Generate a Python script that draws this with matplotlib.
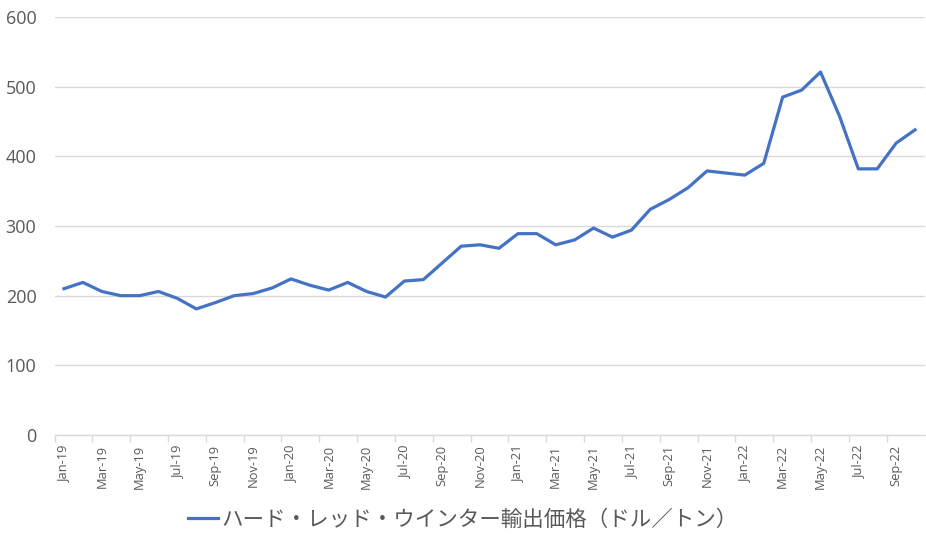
import numpy as np
import pandas as pd
import matplotlib
matplotlib.use("Agg")
import matplotlib.pyplot as plt
from matplotlib.ticker import FixedLocator

plt.rcParams["font.family"] = ["Noto Sans CJK JP", "DejaVu Sans"]

# monthly categories Jan-19 .. Oct-22
months = list(pd.date_range("2019-01-01", "2022-10-01", freq="MS").strftime("%b-%y"))

# export price (USD / ton)
price = [
    210, 219, 206, 200, 200, 206, 196, 181, 190, 200, 203, 211,
    224, 215, 208, 219, 206, 198, 221, 223, 247, 271, 273, 268,
    289, 289, 273, 280, 297, 284, 294, 324, 338, 355, 379, 376,
    373, 390, 485, 495, 521, 458, 382, 382, 419, 438,
]
series_label = "ハード・レッド・ウインター輸出価格（ドル／トン）"
y_ticks = [0, 100, 200, 300, 400, 500, 600]

text_col = "#595959"
grid_col = "#d9d9d9"
num_font = ["Open Sans", "DejaVu Sans"]

fig = plt.figure(figsize=(9.26, 5.34), dpi=100)
ax = fig.add_axes([0.0589, 0.1854, 0.9395, 0.7828])

x = np.arange(len(months))
ax.plot(x, price, color="#4472C4", linewidth=2.3, label=series_label,
        solid_joinstyle="round")

ax.set_xlim(-0.5, len(months) - 0.5)
ax.set_ylim(0, 600)
ax.set_yticks(y_ticks)
ax.yaxis.grid(True, color=grid_col, linewidth=1)
ax.set_axisbelow(True)

# labels on every second month, tick marks between categories
ax.xaxis.set_major_locator(FixedLocator(x[::2]))
ax.set_xticklabels(months[::2], rotation=90, fontsize=9.3, color=text_col,
                   family=num_font)
ax.xaxis.set_minor_locator(FixedLocator(x[::2] - 0.5))
ax.tick_params(axis="x", which="major", length=0, pad=7)
ax.tick_params(axis="x", which="minor", length=5, color=grid_col, width=1)
ax.tick_params(axis="y", length=0, labelsize=13, labelcolor=text_col, pad=13)
for lbl in ax.get_yticklabels():
    lbl.set_family(num_font)

for side in ["top", "right", "left"]:
    ax.spines[side].set_visible(False)
ax.spines["bottom"].set_color(grid_col)
ax.spines["bottom"].set_linewidth(1)

leg = fig.legend(loc="lower center", bbox_to_anchor=(0.5, -0.03), frameon=False,
                 fontsize=15.5, handlelength=1.4, handletextpad=0.15)
for t in leg.get_texts():
    t.set_color(text_col)

fig.savefig("out.png", dpi=100)
